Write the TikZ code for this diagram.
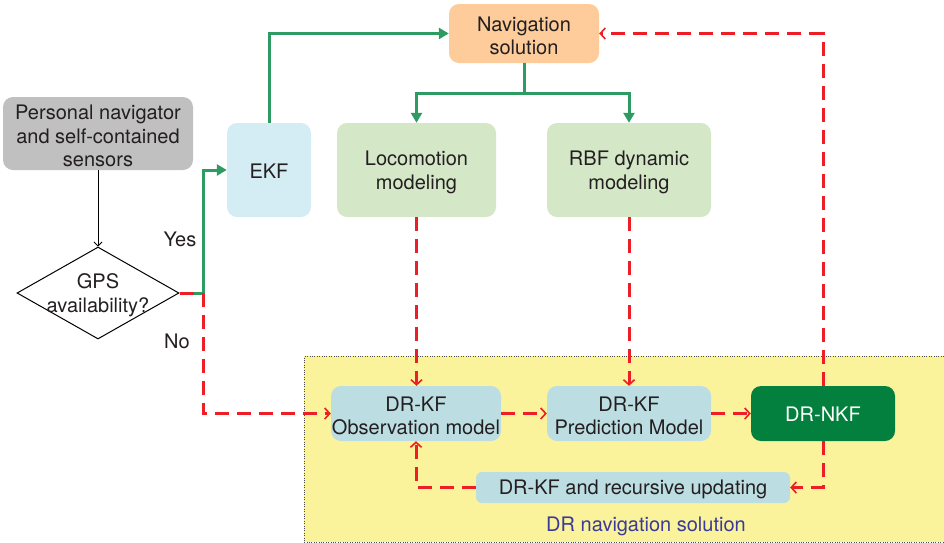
\documentclass[tikz,border=0pt]{standalone}
\usepackage{fontspec}
\setmainfont{TeX Gyre Heros}
\usetikzlibrary{shapes.geometric,arrows.meta}
\definecolor{navfill}{RGB}{253,204,154}
\definecolor{persfill}{RGB}{192,192,192}
\definecolor{ekffill}{RGB}{212,236,243}
\definecolor{modfill}{RGB}{212,232,200}
\definecolor{drfill}{RGB}{188,222,226}
\definecolor{nkffill}{RGB}{4,128,62}
\definecolor{yellowbg}{RGB}{250,243,155}
\definecolor{gline}{RGB}{46,155,98}
\definecolor{rline}{RGB}{237,30,38}
\definecolor{txt}{RGB}{35,31,32}
\definecolor{regtxt}{RGB}{58,58,154}
\begin{document}
\begin{tikzpicture}[x=1pt,y=-1pt,
  every node/.style={font=\fontsize{20}{23.5}\selectfont, text=txt, align=center},
  box/.style={rounded corners=10pt, inner sep=0pt},
  lbl/.style={yshift=-2.5pt},
  greenline/.style={draw=gline, line width=3pt},
  greenarrow/.style={greenline, -{Triangle[length=10pt,width=11pt]}},
  redline/.style={draw=rline, line width=3pt, dash pattern=on 14pt off 8pt},
  redarrow/.style={redline, -{Straight Barb[length=5pt,width=11pt,line width=1.6pt]}}
]
\useasboundingbox (0,0) rectangle (944,542);
% region
\node[draw=black!70, dotted, fill=yellowbg, inner sep=0pt, minimum width=639.5pt, minimum height=186pt, anchor=north west] (region) at (304,356) {};
\node[text=regtxt] (regionlabel) at (646,526) {DR navigation solution};

% nodes
\node[box, fill=navfill, minimum width=150pt, minimum height=59pt, label={[lbl]center:{Navigation\\solution}}] (nav) at (524,33.5) {};
\node[box, fill=persfill, minimum width=190pt, minimum height=73pt, label={[lbl]center:{Personal navigator\\and self-contained\\sensors}}] (pers) at (98,133.5) {};
\node[box, fill=ekffill, minimum width=84pt, minimum height=94pt, label={[yshift=-1pt]center:EKF}] (ekf) at (269,170) {};
\node[box, fill=modfill, minimum width=159pt, minimum height=94pt, label={[lbl]center:{Locomotion\\modeling}}] (loco) at (416.5,170) {};
\node[box, fill=modfill, minimum width=164pt, minimum height=94pt, label={[lbl]center:{RBF dynamic\\modeling}}] (rbf) at (629,170) {};
\node[draw=black, line width=1pt, diamond, inner sep=0pt, minimum width=162pt, minimum height=92pt, aspect=1.76, label={[yshift=-2pt]center:{GPS\\availability?}}] (gps) at (98,293) {};
\node[box, fill=drfill, minimum width=170pt, minimum height=55pt, label={[lbl]center:{DR-KF\\Observation model}}] (obs) at (416,413.5) {};
\node[box, fill=drfill, minimum width=164pt, minimum height=55pt, label={[lbl]center:{DR-KF\\Prediction Model}}] (pred) at (629,413.5) {};
\node[box, fill=nkffill, minimum width=144pt, minimum height=55pt, label={[yshift=-1pt,text=white]center:DR-NKF}] (nkf) at (823,413.5) {};
\node[box, rounded corners=6pt, fill=drfill, minimum width=314pt, minimum height=31pt, label={[yshift=-1.5pt]center:DR-KF and recursive updating}] (rec) at (633,487.5) {};

\node (yes) at (180,239) {Yes};
\node (no) at (177,341) {No};

\coordinate (split) at (203,293);
\coordinate (navsplit) at (524,93);

% black connector
\draw[black, line width=0.8pt, -{Straight Barb[length=4pt,width=8pt]}] (pers.south) -- (gps.north);

% green connectors
\draw[greenarrow] (gps.east) -- (split) |- (ekf.west);
\draw[rline, line width=3pt] (gps.east) -- ++(14,0);
\draw[greenarrow] (ekf.north) |- (nav.west);
\draw[greenline] (nav.south) -- (navsplit);
\draw[greenarrow] (navsplit) -| (loco.north);
\draw[greenarrow] (navsplit) -| (rbf.north);

% red connectors
\draw[redarrow] (split) |- (obs.west);
\draw[redarrow] (loco.south) -- (loco.south |- obs.north);
\draw[redarrow] (rbf.south) -- (rbf.south |- pred.north);
\draw[redarrow] (obs.east) -- (pred.west);
\draw[redarrow] (pred.east) -- (nkf.west);
\draw[redarrow] (nkf.north) |- (nav.east);
\draw[redarrow] (nkf.south) |- (rec.east);
\draw[redarrow] (rec.west) -| (obs.south);
\end{tikzpicture}
\end{document}
